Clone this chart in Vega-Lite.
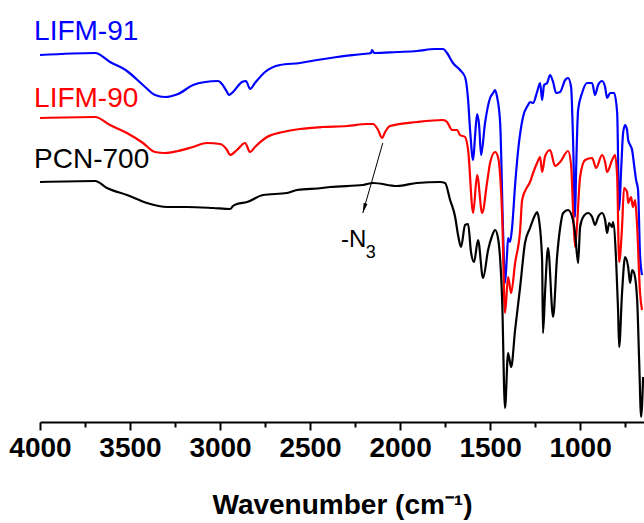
{
  "$schema": "https://vega.github.io/schema/vega-lite/v6.json",
  "width": 604,
  "height": 400,
  "autosize": {"type": "none"},
  "padding": {"left": 40, "top": 22, "right": 0, "bottom": 101},
  "background": "white",
  "config": {"view": {"stroke": null}, "font": "Liberation Sans"},
  "datasets": {
    "spectra": [
      {"s":"LIFM-91","w":4000,"t":367},{"s":"LIFM-91","w":3694,"t":369},{"s":"LIFM-91","w":3611,"t":360},{"s":"LIFM-91","w":3517,"t":351},{"s":"LIFM-91","w":3428,"t":337},{"s":"LIFM-91","w":3361,"t":327},{"s":"LIFM-91","w":3306,"t":325},{"s":"LIFM-91","w":3233,"t":328},{"s":"LIFM-91","w":3150,"t":337},{"s":"LIFM-91","w":3083,"t":340},{"s":"LIFM-91","w":3011,"t":341},{"s":"LIFM-91","w":2989,"t":338},{"s":"LIFM-91","w":2961,"t":330},{"s":"LIFM-91","w":2950,"t":327},{"s":"LIFM-91","w":2928,"t":330},{"s":"LIFM-91","w":2878,"t":340},{"s":"LIFM-91","w":2856,"t":341},{"s":"LIFM-91","w":2833,"t":333},{"s":"LIFM-91","w":2806,"t":339},{"s":"LIFM-91","w":2750,"t":350},{"s":"LIFM-91","w":2667,"t":357},{"s":"LIFM-91","w":2556,"t":359},{"s":"LIFM-91","w":2461,"t":362},{"s":"LIFM-91","w":2350,"t":365},{"s":"LIFM-91","w":2206,"t":368},{"s":"LIFM-91","w":2161,"t":369},{"s":"LIFM-91","w":2156,"t":372},{"s":"LIFM-91","w":2144,"t":369},{"s":"LIFM-91","w":2017,"t":370},{"s":"LIFM-91","w":1906,"t":371},{"s":"LIFM-91","w":1806,"t":373},{"s":"LIFM-91","w":1761,"t":373},{"s":"LIFM-91","w":1739,"t":369},{"s":"LIFM-91","w":1706,"t":359},{"s":"LIFM-91","w":1667,"t":352},{"s":"LIFM-91","w":1639,"t":345},{"s":"LIFM-91","w":1622,"t":322},{"s":"LIFM-91","w":1611,"t":292},{"s":"LIFM-91","w":1594,"t":262},{"s":"LIFM-91","w":1583,"t":287},{"s":"LIFM-91","w":1572,"t":308},{"s":"LIFM-91","w":1561,"t":297},{"s":"LIFM-91","w":1550,"t":267},{"s":"LIFM-91","w":1528,"t":299},{"s":"LIFM-91","w":1500,"t":324},{"s":"LIFM-91","w":1483,"t":329},{"s":"LIFM-91","w":1472,"t":332},{"s":"LIFM-91","w":1461,"t":325},{"s":"LIFM-91","w":1444,"t":299},{"s":"LIFM-91","w":1428,"t":192},{"s":"LIFM-91","w":1417,"t":139},{"s":"LIFM-91","w":1406,"t":167},{"s":"LIFM-91","w":1400,"t":184},{"s":"LIFM-91","w":1389,"t":180},{"s":"LIFM-91","w":1378,"t":194},{"s":"LIFM-91","w":1361,"t":237},{"s":"LIFM-91","w":1344,"t":272},{"s":"LIFM-91","w":1317,"t":305},{"s":"LIFM-91","w":1289,"t":317},{"s":"LIFM-91","w":1278,"t":320},{"s":"LIFM-91","w":1261,"t":319},{"s":"LIFM-91","w":1239,"t":330},{"s":"LIFM-91","w":1222,"t":339},{"s":"LIFM-91","w":1211,"t":322},{"s":"LIFM-91","w":1200,"t":337},{"s":"LIFM-91","w":1183,"t":339},{"s":"LIFM-91","w":1167,"t":347},{"s":"LIFM-91","w":1150,"t":340},{"s":"LIFM-91","w":1133,"t":329},{"s":"LIFM-91","w":1111,"t":330},{"s":"LIFM-91","w":1083,"t":342},{"s":"LIFM-91","w":1067,"t":344},{"s":"LIFM-91","w":1050,"t":335},{"s":"LIFM-91","w":1039,"t":282},{"s":"LIFM-91","w":1028,"t":205},{"s":"LIFM-91","w":1022,"t":252},{"s":"LIFM-91","w":1011,"t":312},{"s":"LIFM-91","w":989,"t":329},{"s":"LIFM-91","w":961,"t":339},{"s":"LIFM-91","w":933,"t":339},{"s":"LIFM-91","w":917,"t":327},{"s":"LIFM-91","w":900,"t":337},{"s":"LIFM-91","w":878,"t":341},{"s":"LIFM-91","w":861,"t":335},{"s":"LIFM-91","w":850,"t":324},{"s":"LIFM-91","w":833,"t":329},{"s":"LIFM-91","w":811,"t":329},{"s":"LIFM-91","w":794,"t":309},{"s":"LIFM-91","w":783,"t":212},{"s":"LIFM-91","w":772,"t":252},{"s":"LIFM-91","w":761,"t":289},{"s":"LIFM-91","w":750,"t":297},{"s":"LIFM-91","w":739,"t":292},{"s":"LIFM-91","w":733,"t":282},{"s":"LIFM-91","w":722,"t":277},{"s":"LIFM-91","w":711,"t":272},{"s":"LIFM-91","w":700,"t":257},{"s":"LIFM-91","w":689,"t":242},{"s":"LIFM-91","w":678,"t":232},{"s":"LIFM-91","w":667,"t":167},{"s":"LIFM-91","w":656,"t":147},

      {"s":"LIFM-90","w":4000,"t":304},{"s":"LIFM-90","w":3694,"t":305},{"s":"LIFM-90","w":3611,"t":297},{"s":"LIFM-90","w":3517,"t":289},{"s":"LIFM-90","w":3428,"t":279},{"s":"LIFM-90","w":3361,"t":270},{"s":"LIFM-90","w":3306,"t":269},{"s":"LIFM-90","w":3233,"t":271},{"s":"LIFM-90","w":3150,"t":275},{"s":"LIFM-90","w":3072,"t":279},{"s":"LIFM-90","w":3000,"t":278},{"s":"LIFM-90","w":2961,"t":272},{"s":"LIFM-90","w":2944,"t":267},{"s":"LIFM-90","w":2906,"t":272},{"s":"LIFM-90","w":2861,"t":279},{"s":"LIFM-90","w":2833,"t":270},{"s":"LIFM-90","w":2806,"t":275},{"s":"LIFM-90","w":2739,"t":285},{"s":"LIFM-90","w":2650,"t":290},{"s":"LIFM-90","w":2556,"t":293},{"s":"LIFM-90","w":2433,"t":295},{"s":"LIFM-90","w":2294,"t":296},{"s":"LIFM-90","w":2183,"t":298},{"s":"LIFM-90","w":2150,"t":298},{"s":"LIFM-90","w":2122,"t":292},{"s":"LIFM-90","w":2100,"t":284},{"s":"LIFM-90","w":2083,"t":290},{"s":"LIFM-90","w":2056,"t":296},{"s":"LIFM-90","w":1906,"t":300},{"s":"LIFM-90","w":1761,"t":302},{"s":"LIFM-90","w":1739,"t":300},{"s":"LIFM-90","w":1711,"t":292},{"s":"LIFM-90","w":1683,"t":292},{"s":"LIFM-90","w":1667,"t":287},{"s":"LIFM-90","w":1639,"t":285},{"s":"LIFM-90","w":1622,"t":272},{"s":"LIFM-90","w":1594,"t":209},{"s":"LIFM-90","w":1572,"t":247},{"s":"LIFM-90","w":1544,"t":209},{"s":"LIFM-90","w":1517,"t":239},{"s":"LIFM-90","w":1500,"t":259},{"s":"LIFM-90","w":1472,"t":270},{"s":"LIFM-90","w":1456,"t":265},{"s":"LIFM-90","w":1433,"t":207},{"s":"LIFM-90","w":1417,"t":109},{"s":"LIFM-90","w":1400,"t":145},{"s":"LIFM-90","w":1383,"t":129},{"s":"LIFM-90","w":1361,"t":159},{"s":"LIFM-90","w":1333,"t":192},{"s":"LIFM-90","w":1322,"t":222},{"s":"LIFM-90","w":1294,"t":235},{"s":"LIFM-90","w":1278,"t":240},{"s":"LIFM-90","w":1261,"t":249},{"s":"LIFM-90","w":1239,"t":259},{"s":"LIFM-90","w":1222,"t":265},{"s":"LIFM-90","w":1211,"t":250},{"s":"LIFM-90","w":1194,"t":266},{"s":"LIFM-90","w":1167,"t":272},{"s":"LIFM-90","w":1139,"t":256},{"s":"LIFM-90","w":1111,"t":260},{"s":"LIFM-90","w":1067,"t":271},{"s":"LIFM-90","w":1050,"t":257},{"s":"LIFM-90","w":1039,"t":212},{"s":"LIFM-90","w":1028,"t":175},{"s":"LIFM-90","w":1017,"t":197},{"s":"LIFM-90","w":1000,"t":245},{"s":"LIFM-90","w":972,"t":262},{"s":"LIFM-90","w":933,"t":264},{"s":"LIFM-90","w":911,"t":254},{"s":"LIFM-90","w":878,"t":267},{"s":"LIFM-90","w":861,"t":260},{"s":"LIFM-90","w":850,"t":250},{"s":"LIFM-90","w":822,"t":262},{"s":"LIFM-90","w":806,"t":267},{"s":"LIFM-90","w":794,"t":245},{"s":"LIFM-90","w":783,"t":160},{"s":"LIFM-90","w":767,"t":195},{"s":"LIFM-90","w":756,"t":234},{"s":"LIFM-90","w":739,"t":230},{"s":"LIFM-90","w":733,"t":219},{"s":"LIFM-90","w":717,"t":225},{"s":"LIFM-90","w":706,"t":215},{"s":"LIFM-90","w":694,"t":222},{"s":"LIFM-90","w":683,"t":195},{"s":"LIFM-90","w":667,"t":129},{"s":"LIFM-90","w":656,"t":112},

      {"s":"PCN-700","w":4000,"t":240},{"s":"PCN-700","w":3694,"t":241},{"s":"PCN-700","w":3628,"t":234},{"s":"PCN-700","w":3517,"t":227},{"s":"PCN-700","w":3406,"t":219},{"s":"PCN-700","w":3294,"t":215},{"s":"PCN-700","w":3183,"t":215},{"s":"PCN-700","w":3039,"t":214},{"s":"PCN-700","w":2944,"t":213},{"s":"PCN-700","w":2928,"t":216},{"s":"PCN-700","w":2906,"t":218},{"s":"PCN-700","w":2850,"t":220},{"s":"PCN-700","w":2761,"t":227},{"s":"PCN-700","w":2628,"t":229},{"s":"PCN-700","w":2572,"t":232},{"s":"PCN-700","w":2433,"t":234},{"s":"PCN-700","w":2389,"t":235},{"s":"PCN-700","w":2206,"t":237},{"s":"PCN-700","w":2150,"t":239},{"s":"PCN-700","w":2017,"t":236},{"s":"PCN-700","w":1906,"t":239},{"s":"PCN-700","w":1778,"t":240},{"s":"PCN-700","w":1750,"t":239},{"s":"PCN-700","w":1722,"t":222},{"s":"PCN-700","w":1694,"t":205},{"s":"PCN-700","w":1678,"t":187},{"s":"PCN-700","w":1661,"t":175},{"s":"PCN-700","w":1639,"t":197},{"s":"PCN-700","w":1622,"t":198},{"s":"PCN-700","w":1606,"t":170},{"s":"PCN-700","w":1589,"t":160},{"s":"PCN-700","w":1567,"t":182},{"s":"PCN-700","w":1539,"t":144},{"s":"PCN-700","w":1511,"t":172},{"s":"PCN-700","w":1489,"t":186},{"s":"PCN-700","w":1472,"t":192},{"s":"PCN-700","w":1456,"t":184},{"s":"PCN-700","w":1433,"t":122},{"s":"PCN-700","w":1417,"t":14},{"s":"PCN-700","w":1400,"t":69},{"s":"PCN-700","w":1383,"t":55},{"s":"PCN-700","w":1361,"t":92},{"s":"PCN-700","w":1333,"t":135},{"s":"PCN-700","w":1306,"t":179},{"s":"PCN-700","w":1278,"t":194},{"s":"PCN-700","w":1250,"t":207},{"s":"PCN-700","w":1239,"t":210},{"s":"PCN-700","w":1228,"t":202},{"s":"PCN-700","w":1211,"t":162},{"s":"PCN-700","w":1206,"t":89},{"s":"PCN-700","w":1194,"t":132},{"s":"PCN-700","w":1178,"t":174},{"s":"PCN-700","w":1150,"t":105},{"s":"PCN-700","w":1128,"t":165},{"s":"PCN-700","w":1111,"t":194},{"s":"PCN-700","w":1094,"t":209},{"s":"PCN-700","w":1067,"t":212},{"s":"PCN-700","w":1044,"t":205},{"s":"PCN-700","w":1028,"t":189},{"s":"PCN-700","w":1011,"t":159},{"s":"PCN-700","w":1000,"t":195},{"s":"PCN-700","w":983,"t":205},{"s":"PCN-700","w":956,"t":209},{"s":"PCN-700","w":933,"t":205},{"s":"PCN-700","w":917,"t":197},{"s":"PCN-700","w":900,"t":205},{"s":"PCN-700","w":878,"t":209},{"s":"PCN-700","w":861,"t":202},{"s":"PCN-700","w":850,"t":189},{"s":"PCN-700","w":839,"t":199},{"s":"PCN-700","w":822,"t":195},{"s":"PCN-700","w":817,"t":200},{"s":"PCN-700","w":800,"t":162},{"s":"PCN-700","w":789,"t":112},{"s":"PCN-700","w":783,"t":75},{"s":"PCN-700","w":767,"t":129},{"s":"PCN-700","w":750,"t":165},{"s":"PCN-700","w":733,"t":155},{"s":"PCN-700","w":722,"t":139},{"s":"PCN-700","w":711,"t":152},{"s":"PCN-700","w":700,"t":149},{"s":"PCN-700","w":683,"t":122},{"s":"PCN-700","w":672,"t":62},{"s":"PCN-700","w":661,"t":5},{"s":"PCN-700","w":650,"t":45}
    ],
    "labels": [
      {"label":"LIFM-91","s":"LIFM-91","w":4033,"t":382},
      {"label":"LIFM-90","s":"LIFM-90","w":4033,"t":315},
      {"label":"PCN-700","s":"PCN-700","w":4033,"t":254}
    ],
    "arrow": [{"w1":2096,"t1":279,"w2":2207,"t2":209}],
    "note": [{"txt":"-N","w":2328,"t":175}],
    "notesub": [{"txt":"3","w":2190,"t":164}]
  },
  "layer": [
    {
      "data": {"name": "spectra"},
      "mark": {"type": "line", "strokeWidth": 2.2, "clip": false, "interpolate": "monotone"},
      "encoding": {
        "x": {
          "field": "w", "type": "quantitative",
          "scale": {"domain": [645, 4000], "reverse": true, "nice": false, "zero": false},
          "axis": {
            "values": [4000,3750,3500,3250,3000,2750,2500,2250,2000,1750,1500,1250,1000,750],
            "labelExpr": "datum.value % 500 === 0 ? datum.label : ''",
            "format": "d",
            "grid": false,
            "domainColor": "black", "domainWidth": 2,
            "tickColor": "black", "tickWidth": 2,
            "tickSize": {"condition": {"test": "datum.value % 500 === 0", "value": 8}, "value": 5},
            "labelFont": "Liberation Sans", "labelFontSize": 28, "labelFontWeight": "bold", "labelColor": "black",
            "labelPadding": 4,
            "labelFlush": false, "labelOverlap": false,
            "title": "Wavenumber (cm⁻¹)",
            "titleFont": "Liberation Sans", "titleFontSize": 28, "titleFontWeight": "bold", "titleColor": "black",
            "titlePadding": 29
          }
        },
        "y": {"field": "t", "type": "quantitative", "scale": {"domain": [0, 400], "nice": false}, "axis": null},
        "color": {"field": "s", "type": "nominal", "scale": {"domain": ["PCN-700","LIFM-90","LIFM-91"], "range": ["#000000","#ff0000","#0000ff"]}, "legend": null}
      }
    },
    {
      "data": {"name": "labels"},
      "mark": {"type": "text", "align": "left", "baseline": "alphabetic", "fontSize": 28, "font": "Liberation Sans"},
      "encoding": {
        "x": {"field": "w", "type": "quantitative"},
        "y": {"field": "t", "type": "quantitative"},
        "text": {"field": "label"},
        "color": {"field": "s", "type": "nominal", "legend": null}
      }
    },
    {
      "data": {"name": "arrow"},
      "mark": {"type": "rule", "color": "black", "strokeWidth": 1},
      "encoding": {
        "x": {"field": "w1", "type": "quantitative"},
        "x2": {"field": "w2"},
        "y": {"field": "t1", "type": "quantitative"},
        "y2": {"field": "t2"}
      }
    },
    {
      "data": {"name": "arrow"},
      "mark": {"type": "point", "shape": "M0,0L-0.4,-2L0.4,-2Z", "filled": true, "color": "black", "size": 100, "angle": 16, "opacity": 1},
      "encoding": {
        "x": {"field": "w2", "type": "quantitative"},
        "y": {"field": "t2", "type": "quantitative"}
      }
    },
    {
      "data": {"name": "note"},
      "mark": {"type": "text", "align": "left", "baseline": "alphabetic", "fontSize": 24, "font": "Liberation Sans", "color": "black"},
      "encoding": {
        "x": {"field": "w", "type": "quantitative"},
        "y": {"field": "t", "type": "quantitative"},
        "text": {"field": "txt"}
      }
    },
    {
      "data": {"name": "notesub"},
      "mark": {"type": "text", "align": "left", "baseline": "alphabetic", "fontSize": 18, "font": "Liberation Sans", "color": "black"},
      "encoding": {
        "x": {"field": "w", "type": "quantitative"},
        "y": {"field": "t", "type": "quantitative"},
        "text": {"field": "txt"}
      }
    }
  ]
}
